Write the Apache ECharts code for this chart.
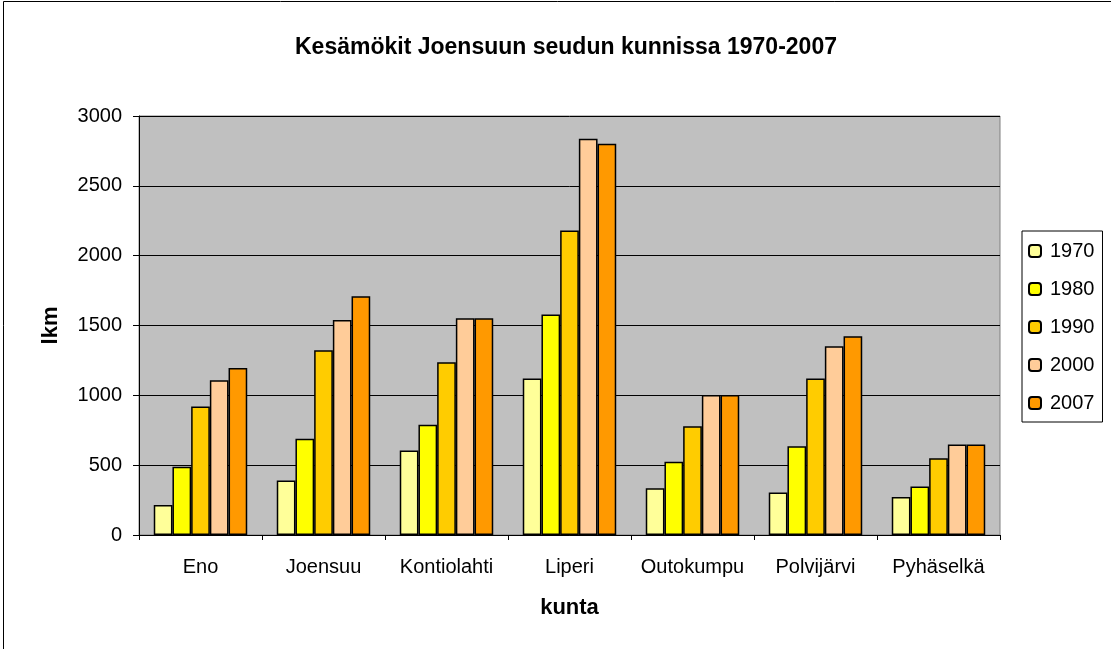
<!DOCTYPE html>
<html>
<head>
<meta charset="utf-8">
<script src="https://cdn.jsdelivr.net/npm/echarts@6/dist/echarts.min.js"></script>
<style>
  html, body { margin: 0; padding: 0; background: #fff; }
  #chart { width: 1111px; height: 649px; }
</style>
</head>
<body>
<div id="chart"></div>
<script>
const categories = ['Eno', 'Joensuu', 'Kontiolahti', 'Liperi', 'Outokumpu', 'Polvijärvi', 'Pyhäselkä']
const years = ['1970', '1980', '1990', '2000', '2007']
const v1970 = [215, 390, 605, 1120, 335, 305, 272]
const v1980 = [488, 690, 790, 1578, 524, 636, 348]
const v1990 = [920, 1323, 1237, 2180, 779, 1120, 550]
const v2000 = [1108, 1540, 1552, 2838, 1003, 1352, 648]
const v2007 = [1196, 1709, 1552, 2802, 1003, 1423, 648]
const yTicks = [0, 500, 1000, 1500, 2000, 2500, 3000]
const colors = ['#FFFF99', '#FFFF00', '#FFCC00', '#FFCC99', '#FF9900']

const chart = echarts.init(document.getElementById('chart'))
const font = 'Arial, "Liberation Sans", sans-serif'

const seriesData = [v1970, v1980, v1990, v2000, v2007]
const series = years.map((y, i) => {
    return {
        name: y,
        type: 'bar',
        data: seriesData[i],
        barGap: '0%',
        barCategoryGap: '24%',
        itemStyle: { color: colors[i], borderColor: '#000', borderWidth: 1.5 }
    }
})

const option = {
    backgroundColor: '#fff',
    animation: false,
    textStyle: { fontFamily: font },
    title: {
        text: 'Kesämökit Joensuun seudun kunnissa 1970-2007',
        left: 561, top: 31, textAlign: 'center',
        textStyle: { fontSize: 23, fontWeight: 'bold', color: '#000', fontFamily: font }
    },
    graphic: [{
        type: 'rect',
        shape: { x: 3.5, y: 1.5, width: 1200, height: 700 },
        style: { fill: 'none', stroke: '#000', lineWidth: 1 },
        silent: true
    }],
    legend: {
        orient: 'vertical',
        left: 1022, top: 231,
        data: years,
        itemWidth: 12, itemHeight: 12,
        itemGap: 18,
        padding: [10, 8, 9, 6],
        borderColor: '#000', borderWidth: 1,
        backgroundColor: '#fff',
        textStyle: { fontSize: 20, color: '#000', fontFamily: font, padding: [0, 0, 0, 4] }
    },
    grid: {
        left: 139, right: 111, top: 116, bottom: 114,
        show: true, backgroundColor: '#C0C0C0', borderColor: '#808080', borderWidth: 1
    },
    xAxis: {
        type: 'category',
        data: categories,
        name: 'kunta',
        nameLocation: 'middle',
        nameGap: 62,
        nameMoveOverlap: false,
        nameTextStyle: { fontSize: 22, fontWeight: 'bold', color: '#000' },
        axisLine: { lineStyle: { color: '#000', width: 1 } },
        axisTick: { show: true, interval: 0, length: 5, lineStyle: { color: '#000' } },
        axisLabel: { interval: 0, hideOverlap: false, fontSize: 20, color: '#000', margin: 22 }
    },
    yAxis: {
        type: 'value',
        min: yTicks[0], max: yTicks[yTicks.length - 1], interval: yTicks[1] - yTicks[0],
        name: 'lkm',
        nameLocation: 'middle',
        nameGap: 77,
        nameMoveOverlap: false,
        nameTextStyle: { fontSize: 22, fontWeight: 'bold', color: '#000' },
        axisLine: { show: true, lineStyle: { color: '#000', width: 1 } },
        axisTick: { show: true, length: 6, lineStyle: { color: '#000' } },
        axisLabel: { fontSize: 20, color: '#000', margin: 17, formatter: v => String(v) },
        splitLine: { show: true, lineStyle: { color: '#000', width: 1 } }
    },
    series: series
}
chart.setOption(option)
</script>
</body>
</html>
